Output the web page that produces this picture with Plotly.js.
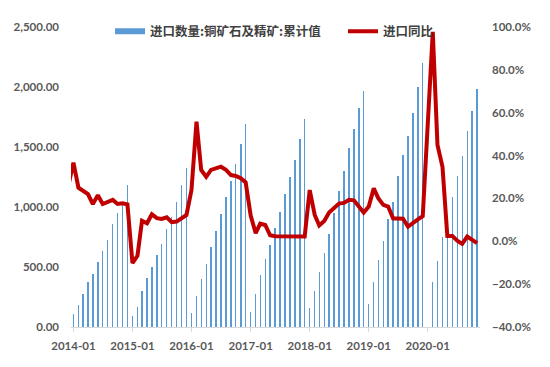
<!DOCTYPE html>
<html>
<head>
<meta charset="utf-8">
<script src="https://cdn.plot.ly/plotly-3.0.1.min.js"></script>
<style>html,body{margin:0;padding:0;background:#fff;}#chart{width:550px;height:367px;}</style>
</head>
<body>
<div id="chart"></div>
<script>
// Months (2013-12 only carries the clipped start of the YoY line; 2020-01 is not reported)
const months = [
  '2013-12',
  '2014-01','2014-02','2014-03','2014-04','2014-05','2014-06','2014-07','2014-08','2014-09','2014-10','2014-11','2014-12',
  '2015-01','2015-02','2015-03','2015-04','2015-05','2015-06','2015-07','2015-08','2015-09','2015-10','2015-11','2015-12',
  '2016-01','2016-02','2016-03','2016-04','2016-05','2016-06','2016-07','2016-08','2016-09','2016-10','2016-11','2016-12',
  '2017-01','2017-02','2017-03','2017-04','2017-05','2017-06','2017-07','2017-08','2017-09','2017-10','2017-11','2017-12',
  '2018-01','2018-02','2018-03','2018-04','2018-05','2018-06','2018-07','2018-08','2018-09','2018-10','2018-11','2018-12',
  '2019-01','2019-02','2019-03','2019-04','2019-05','2019-06','2019-07','2019-08','2019-09','2019-10','2019-11','2019-12',
  '2020-02','2020-03','2020-04','2020-05','2020-06','2020-07','2020-08','2020-09','2020-10','2020-11'
];
// 进口数量:铜矿石及精矿:累计值 (万吨)
const cumImports = [
  null,
  106, 183, 275, 375, 445, 542, 633, 727, 856, 950, 1025, 1180,
  91, 170, 303, 405, 500, 600, 694, 814, 919, 1039, 1181, 1327,
  114, 258, 400, 525, 669, 803, 939, 1081, 1219, 1356, 1528, 1694,
  128, 272, 436, 567, 683, 822, 961, 1106, 1250, 1389, 1564, 1731,
  158, 303, 461, 619, 775, 953, 1136, 1303, 1494, 1650, 1822, 1968,
  189, 378, 558, 719, 897, 1044, 1255, 1436, 1594, 1786, 2003, 2197,
  372, 553, 750, 905, 1081, 1255, 1425, 1633, 1804, 1983
];
// 进口同比 (%)
const yoy = [
  26,
  36.7, 25.0, 23.4, 22.0, 17.4, 21.5, 17.4, 18.5, 19.3, 17.4, 17.7, 17.2,
  -10.2, -6.8, 9.6, 8.4, 12.6, 10.8, 10.4, 11.2, 8.9, 9.2, 10.8, 12.3,
  23.9, 55.8, 33.3, 30.1, 33.3, 34.0, 34.8, 33.3, 30.9, 30.5, 29.4, 27.5,
  12.0, 3.8, 8.2, 7.6, 2.8, 2.4, 2.3, 2.2, 2.3, 2.2, 2.2, 2.2,
  23.9, 12.3, 7.4, 9.5, 13.4, 15.5, 17.6, 17.9, 19.4, 19.1, 16.5, 13.4,
  16.2, 24.7, 20.1, 17.0, 16.2, 10.6, 10.6, 10.5, 6.8, 8.7, 10.2, 11.7,
  97.7, 44.9, 34.8, 2.5, 2.5, 0.3, -1.2, 2.2, 0.7, -0.9
];
const barName = '进口数量:铜矿石及精矿:累计值';
const lineName = '进口同比';

const BLUE = '#5b9bd5';
const RED = '#c00000';
const tickFont = {family: 'Lato, "Liberation Sans", sans-serif', size: 11.5, color: '#595959', weight: 'bold'};
const legFont = {family: '"Noto Sans CJK SC", sans-serif', size: 12.5, color: '#404040', weight: 'bold'};

const traces = [
  {type: 'bar', x: months, y: cumImports, name: barName, marker: {color: BLUE},
   width: 8.5 * 86400000, showlegend: false, hoverinfo: 'x+y'},
  {type: 'scatter', mode: 'lines', x: [null], y: [null], name: barName,
   line: {color: BLUE, width: 6}, legend: 'legend', hoverinfo: 'skip'},
  {type: 'scatter', mode: 'lines', x: months, y: yoy, name: lineName, yaxis: 'y2',
   line: {color: RED, width: 4}, legend: 'legend2', connectgaps: true}
];

const layout = {
  width: 550, height: 367,
  margin: {l: 71, r: 70, t: 27, b: 40, pad: 0},
  paper_bgcolor: '#fff', plot_bgcolor: '#fff',
  bargap: 0,
  xaxis: {
    type: 'date', range: ['2013-12-17', '2020-11-19'],
    tick0: '2014-01-01', dtick: 'M12', tickformat: '%Y-%m',
    showgrid: false, zeroline: false, showline: true, linecolor: '#d9d9d9', linewidth: 1,
    ticks: 'outside', ticklen: 4, tickcolor: '#d9d9d9', ticklabelstandoff: 4,
    tickfont: tickFont
  },
  yaxis: {
    range: [0, 2500], dtick: 500, tickformat: ',.2f',
    showgrid: false, zeroline: false, showline: false, ticks: '',
    ticklabelstandoff: 11, tickfont: tickFont
  },
  yaxis2: {
    overlaying: 'y', side: 'right', range: [-40, 100], dtick: 20,
    tickformat: '.1f', ticksuffix: '%',
    showgrid: false, zeroline: false, showline: false, ticks: '',
    ticklabelstandoff: 11, tickfont: tickFont
  },
  legend: {orientation: 'h', x: 0.0954, xanchor: 'left', y: 0.985, yanchor: 'middle',
    bgcolor: 'rgba(0,0,0,0)', font: legFont, itemwidth: 30},
  legend2: {orientation: 'h', x: 0.665, xanchor: 'left', y: 0.985, yanchor: 'middle',
    bgcolor: 'rgba(0,0,0,0)', font: legFont, itemwidth: 30}
};

Plotly.newPlot('chart', traces, layout, {displayModeBar: false, staticPlot: true});
</script>
</body>
</html>
